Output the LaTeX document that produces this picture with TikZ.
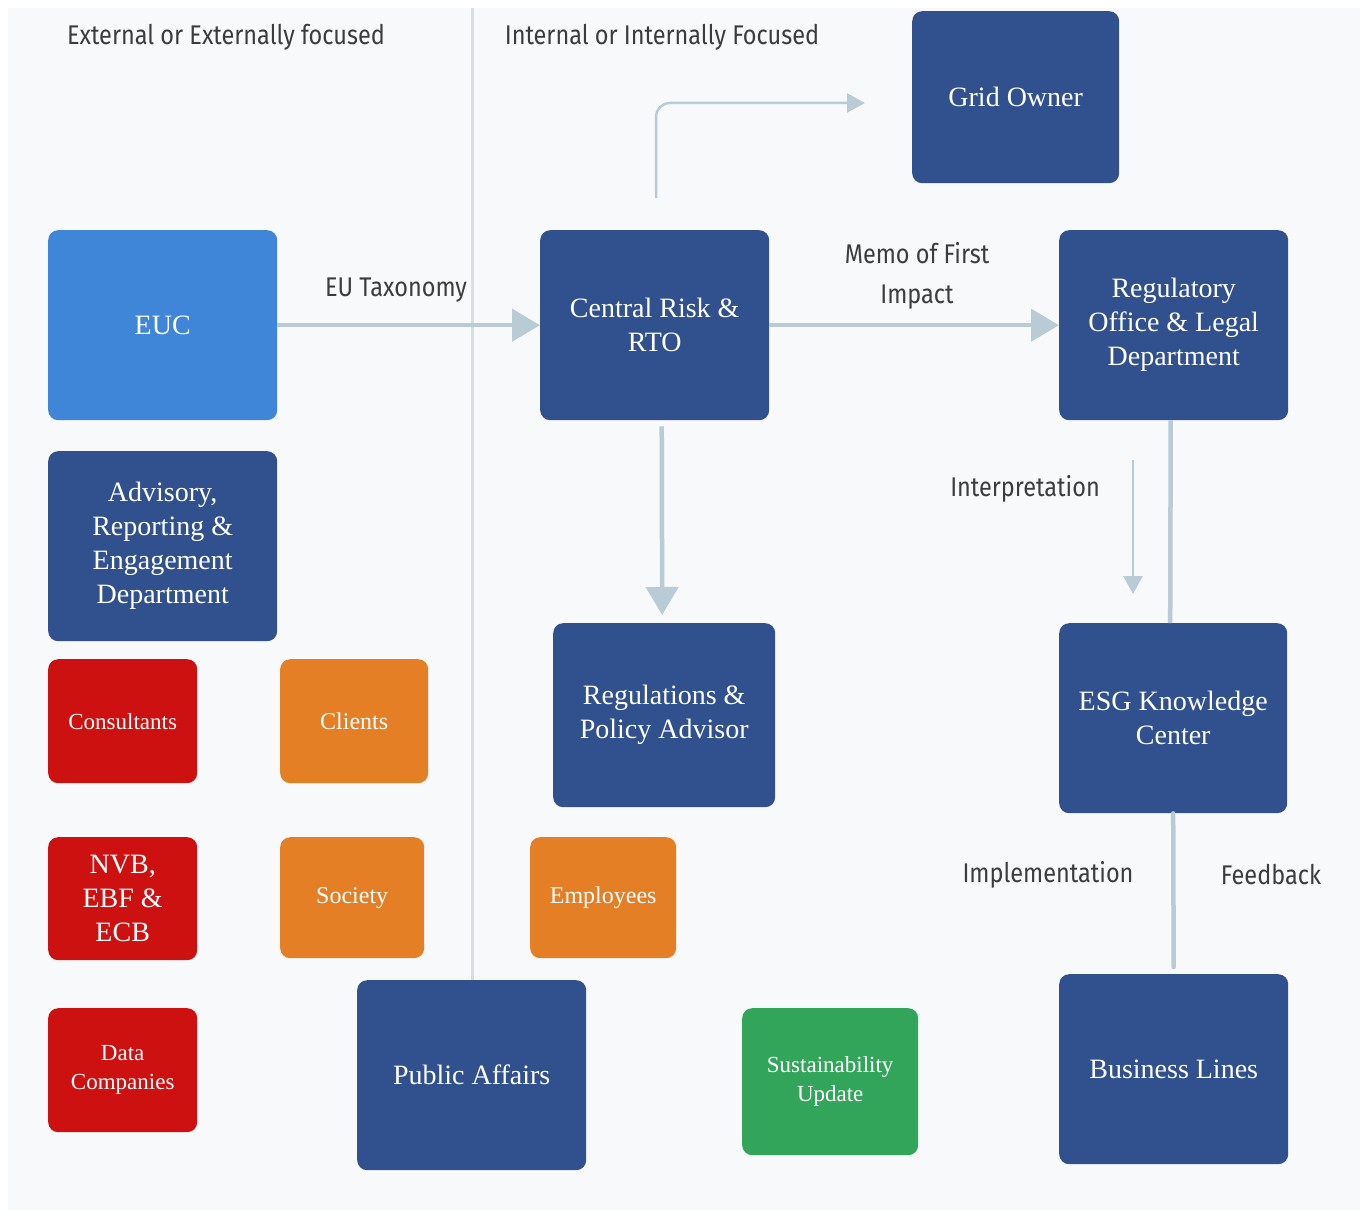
\documentclass[tikz,border=0pt]{standalone}
\usepackage{fontspec}
\setmainfont{Liberation Serif}
\newfontfamily\labfont[FakeStretch=0.87]{Fira Sans}
\usetikzlibrary{arrows.meta}
\definecolor{bgpanel}{HTML}{F7F9FB}
\definecolor{divline}{HTML}{D6DFE6}
\definecolor{dblue}{HTML}{30508E}
\definecolor{lblue}{HTML}{3F85D8}
\definecolor{bred}{HTML}{CD1111}
\definecolor{borange}{HTML}{E47F25}
\definecolor{bgreen}{HTML}{33A55A}
\definecolor{conn}{HTML}{B9CBD4}
\definecolor{labtext}{HTML}{3C3C3C}
\tikzset{
  box/.style={rectangle, rounded corners=10pt, draw=none, text=white, align=center, anchor=north west, inner sep=4pt},
  bigtxt/.style={font=\fontsize{28}{34}\selectfont},
  smalltxt/.style={font=\fontsize{23}{29}\selectfont},
  midtxt/.style={font=\fontsize{24}{29}\selectfont},
  lab/.style={font=\labfont\fontsize{27}{40}\selectfont, text=labtext, align=center},
  thick conn/.style={draw=conn, line width=4.5pt},
  thick arrow/.style={thick conn, -{Triangle[length=28pt,width=32pt]}},
  thin arrow/.style={draw=conn, line width=2.5pt, -{Triangle[length=18pt,width=19pt]}},
}
\begin{document}
\begin{tikzpicture}[x=1pt,y=-1pt]
\useasboundingbox (0,0) rectangle (1368,1212);
\fill[white] (0,0) rectangle (1368,1212);
\fill[bgpanel] (8,8) rectangle (1360,1210);
% divider
\coordinate (divtop) at (472,8);
\coordinate (divbot) at (472,980);
\draw[divline, line width=3pt] (divtop) -- (divbot);
% headers
\node[lab] (hext) at (226,37) {External or Externally focused};
\node[lab] (hint) at (662,37) {Internal or Internally Focused};
% boxes
\node[box, fill=dblue, bigtxt, minimum width=207, minimum height=172] (grid) at (912,11) {Grid Owner};
\node[box, fill=lblue, bigtxt, minimum width=229, minimum height=190] (euc) at (48,230) {EUC};
\node[box, fill=dblue, bigtxt, minimum width=229, minimum height=190] (crisk) at (540,230) {Central Risk \&\\RTO};
\node[box, fill=dblue, bigtxt, minimum width=229, minimum height=190] (reg) at (1059,230) {Regulatory\\Office \& Legal\\Department};
\node[box, fill=dblue, bigtxt, minimum width=229, minimum height=190] (adv) at (48,451) {Advisory,\\Reporting \&\\Engagement\\Department};
\node[box, fill=bred, smalltxt, minimum width=149, minimum height=124] (cons) at (48,659) {Consultants};
\node[box, fill=borange, midtxt, minimum width=148, minimum height=124] (clients) at (280,659) {Clients};
\node[box, fill=dblue, bigtxt, minimum width=222, minimum height=184] (rpa) at (553,623) {Regulations \&\\Policy Advisor};
\node[box, fill=dblue, bigtxt, minimum width=228, minimum height=190] (esg) at (1059,623) {ESG Knowledge\\Center};
\node[box, fill=bred, bigtxt, minimum width=149, minimum height=123] (nvb) at (48,837) {NVB,\\EBF \&\\ECB};
\node[box, fill=borange, midtxt, minimum width=144, minimum height=121] (soc) at (280,837) {Society};
\node[box, fill=borange, midtxt, minimum width=146, minimum height=121] (emp) at (530,837) {Employees};
\node[box, fill=bred, smalltxt, minimum width=149, minimum height=124] (data) at (48,1008) {Data\\Companies};
\node[box, fill=dblue, bigtxt, minimum width=229, minimum height=190] (pa) at (357,980) {Public Affairs};
\node[box, fill=bgreen, smalltxt, minimum width=176, minimum height=147] (sus) at (742,1008) {Sustainability\\Update};
\node[box, fill=dblue, bigtxt, minimum width=229, minimum height=190] (bl) at (1059,974) {Business Lines};
% connectors
\draw[thick arrow] (euc.east) -- (crisk.west);
\node[lab] (leu) at (396,290) {EU Taxonomy};
\draw[thick arrow] (crisk.east) -- (reg.west);
\node[lab] (lmemo) at (917,276) {Memo of First\\Impact};
\draw[thick arrow, shorten <=6pt, shorten >=8pt] ([xshift=7pt]crisk.south) -- ([xshift=-2pt]rpa.north);
% grid owner arrow (free)
\coordinate (gstart) at (656,198);
\coordinate (gend) at (865,103);
\draw[thin arrow, rounded corners=14pt] (gstart) |- (gend);
% interpretation
\coordinate (istart) at (1133,460);
\coordinate (iend) at (1133,594);
\draw[thin arrow] (istart) -- (iend);
\node[lab] (linterp) at (1025,489) {Interpretation};
% reg -> esg
\draw[thick conn] ([xshift=-3pt]reg.south) -- ([xshift=-3pt]esg.north);
% esg -> business lines
\draw[thick conn, line cap=round, shorten >=7pt] (esg.south) -- (bl.north);
\node[lab] (limpl) at (1048,875) {Implementation};
\node[lab] (lfeed) at (1271,875) {Feedback};
\end{tikzpicture}
\end{document}
